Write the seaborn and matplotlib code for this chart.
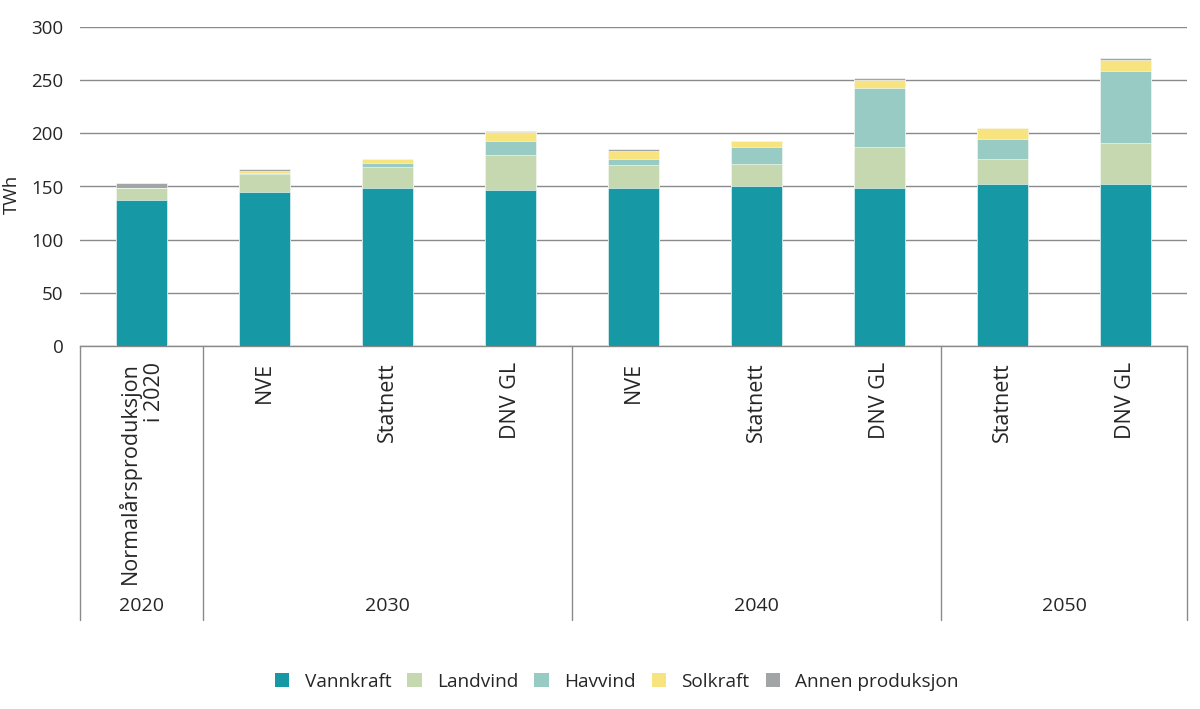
import numpy as np
import pandas as pd
import matplotlib.pyplot as plt
import seaborn as sns
from matplotlib.patches import Patch

# Values (TWh)
scenarios = ["Normalårsproduksjon\ni 2020", "NVE", "Statnett", "DNV GL",
             "NVE", "Statnett", "DNV GL", "Statnett", "DNV GL"]
years = ["2020", "2030", "2030", "2030", "2040", "2040", "2040", "2050", "2050"]
vannkraft = [137.5, 145, 149, 147, 148.5, 150, 148.5, 152.5, 152.5]
landvind = [11.5, 17, 19, 32.5, 21.5, 21.5, 38.5, 23, 38.5]
havvind = [0, 0.5, 4, 13.5, 6, 15.5, 55.5, 19, 68]
solkraft = [0, 2, 4, 8, 7.5, 6, 8, 10.5, 10]
annen = [4, 1.5, 0, 1.5, 2, 0, 2, 0, 1.8]

sources = ["Vannkraft", "Landvind", "Havvind", "Solkraft", "Annen produksjon"]
colors = ["#1698a5", "#c5d8b0", "#97cbc4", "#f7e47e", "#a1a5a5"]

df = pd.DataFrame({"pos": range(len(scenarios)), "Vannkraft": vannkraft,
                   "Landvind": landvind, "Havvind": havvind,
                   "Solkraft": solkraft, "Annen produksjon": annen})

sns.set_style("white")
plt.rcParams["font.family"] = ["Open Sans", "DejaVu Sans"]
plt.rcParams["font.size"] = 13.5

fig = plt.figure(figsize=(12, 7.09), dpi=100)
ax = fig.add_axes([80 / 1200, 1 - 346 / 709, 1107 / 1200, 319 / 709])

# stacked bars: draw cumulative totals from the top layer down
cum = df[sources].cumsum(axis=1)
for src, col in reversed(list(zip(sources, colors))):
    sns.barplot(x=df["pos"], y=cum[src], color=col, width=0.42,
                saturation=1, edgecolor="white", linewidth=0.4, ax=ax, zorder=3)

ax.set_xlim(-0.5, len(scenarios) - 0.5)
ax.set_ylim(0, 300)
ax.set_yticks(np.arange(0, 301, 50))
ax.yaxis.grid(True, color="#8a8a8a", linewidth=1)
ax.set_axisbelow(True)
ax.tick_params(axis="y", length=0, pad=12, labelsize=13.5)
ax.set_xticks([])
ax.set_xlabel("")
ax.set_ylabel("")
for s in ["top", "right", "left"]:
    ax.spines[s].set_visible(False)
ax.spines["bottom"].set_color("#8a8a8a")
ax.spines["bottom"].set_linewidth(1)

trans = ax.get_xaxis_transform()
for i, lab in enumerate(scenarios):
    ax.text(i, -0.05, lab, rotation=90, ha="center", va="top",
            multialignment="right", transform=trans, fontsize=15.5,
            linespacing=1.2)

for x in [-0.5, 0.5, 3.5, 6.5, 8.5]:
    ax.plot([x, x], [0, -0.86], transform=trans, clip_on=False,
            color="#8a8a8a", linewidth=1)

groups = {}
for i, y in enumerate(years):
    groups.setdefault(y, []).append(i)
for y, idx in groups.items():
    ax.text(np.mean(idx), -0.815, y, ha="center", va="center",
            transform=trans, fontsize=14)

fig.text(12 / 1200, 1 - 194 / 709, "TWh", rotation=90, ha="center",
         va="center", fontsize=13.5)

handles = [Patch(facecolor=c, edgecolor="none") for c in colors]
fig.legend(handles, sources, loc="center", bbox_to_anchor=(0.514, 1 - 682 / 709),
           ncol=5, frameon=False, fontsize=13.7, handlelength=0.75,
           handleheight=0.75, columnspacing=0.85, handletextpad=0.8)

fig.savefig("out.png", dpi=100)
